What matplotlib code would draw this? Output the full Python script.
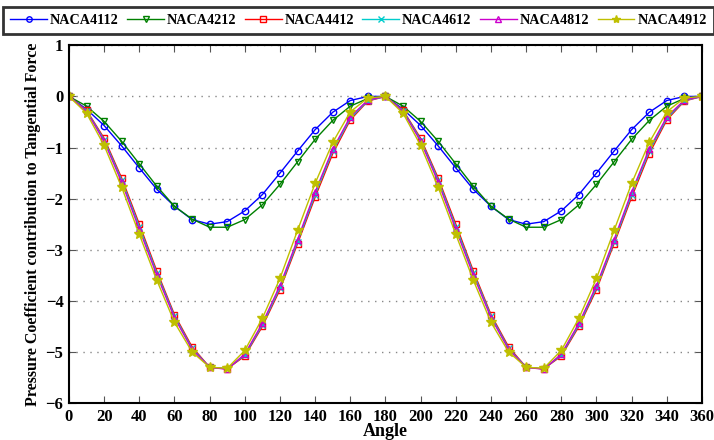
import numpy as np
import matplotlib
matplotlib.use("Agg")
import matplotlib.pyplot as plt

angles = list(range(0, 361, 10))

naca4112_half = [0, -0.25, -0.57, -0.97, -1.4, -1.82, -2.15, -2.41, -2.5, -2.45, -2.24, -1.92, -1.5, -1.07, -0.65, -0.31, -0.08, 0.0]
naca4212_half = [0, -0.19, -0.49, -0.88, -1.32, -1.76, -2.15, -2.4, -2.56, -2.56, -2.41, -2.12, -1.72, -1.28, -0.84, -0.47, -0.19, -0.04]
naca4412_half = [0, -0.27, -0.82, -1.6, -2.5, -3.42, -4.27, -4.9, -5.3, -5.33, -5.08, -4.5, -3.78, -2.88, -1.97, -1.12, -0.46, -0.09]
naca4612_half = [0, -0.28, -0.85, -1.64, -2.55, -3.46, -4.3, -4.93, -5.3, -5.33, -5.06, -4.47, -3.74, -2.84, -1.92, -1.07, -0.43, -0.08]
naca4812_half = [0, -0.29, -0.88, -1.68, -2.6, -3.5, -4.33, -4.95, -5.3, -5.34, -5.04, -4.44, -3.7, -2.8, -1.87, -1.03, -0.4, -0.07]
naca4912_half = [0, -0.33, -0.96, -1.78, -2.7, -3.6, -4.42, -5.0, -5.3, -5.32, -4.97, -4.34, -3.56, -2.62, -1.7, -0.9, -0.3, -0.03]

naca4112 = naca4112_half + naca4112_half + [0]
naca4212 = naca4212_half + naca4212_half + [0]
naca4412 = naca4412_half + naca4412_half + [0]
naca4612 = naca4612_half + naca4612_half + [0]
naca4812 = naca4812_half + naca4812_half + [0]
naca4912 = naca4912_half + naca4912_half + [0]

labels = ["NACA4112", "NACA4212", "NACA4412", "NACA4612", "NACA4812", "NACA4912"]
series = [naca4112, naca4212, naca4412, naca4612, naca4812, naca4912]
colors = ["#0000ff", "#008000", "#ff0000", "#00cccc", "#cc00cc", "#bfbf00"]
markers = ["o", "v", "s", "x", "^", "*"]

plt.rcParams['font.family'] = ['Liberation Serif', 'DejaVu Serif']
plt.rcParams['font.weight'] = 'bold'

fig = plt.figure(figsize=(7.14, 4.40), dpi=100)
ax = fig.add_axes([0.0966, 0.084, 0.8866, 0.813])

handles = []
for y, c, m, lab in zip(series, colors, markers, labels):
    h, = ax.plot(angles, y, color=c, marker=m, lw=1.0,
                 markersize=4.6 if m != "*" else 7,
                 markerfacecolor=(c if m == "*" else "none"),
                 markeredgecolor=c, markeredgewidth=1.0, label=lab)
    handles.append(h)

ax.set_xlim(0, 360)
ax.set_ylim(-6, 1)
ax.set_xticks(range(0, 361, 20))
ax.set_yticks(range(-6, 2))
ax.tick_params(direction='in', top=True, right=True, length=5, color='#555555',
               labelsize=12, pad=4)
for lbl in ax.get_xticklabels() + ax.get_yticklabels():
    lbl.set_fontweight('bold')
ax.yaxis.grid(True, linestyle=(0, (1, 4)), color='#888888', lw=1)
for s in ax.spines.values():
    s.set_linewidth(1.5)
    s.set_color('black')

ax.set_xlabel("Angle", fontsize=13, fontweight='bold', labelpad=-1)
ax.set_ylabel("Pressure Coefficient contribution to Tangential Force", fontsize=11.5,
              fontweight='bold', labelpad=3)

leg = fig.legend(handles=handles, labels=labels, loc='upper center', ncol=6,
                 bbox_to_anchor=(0.502, 0.985), frameon=True, fancybox=False,
                 handlelength=2.6, columnspacing=0.6, handletextpad=0.2,
                 borderpad=0.5, borderaxespad=0, markerscale=0.85,
                 prop={'weight': 'bold', 'size': 10.2})
leg.get_frame().set_edgecolor('black')
leg.get_frame().set_linewidth(2)

fig.savefig("out.png", dpi=100)
